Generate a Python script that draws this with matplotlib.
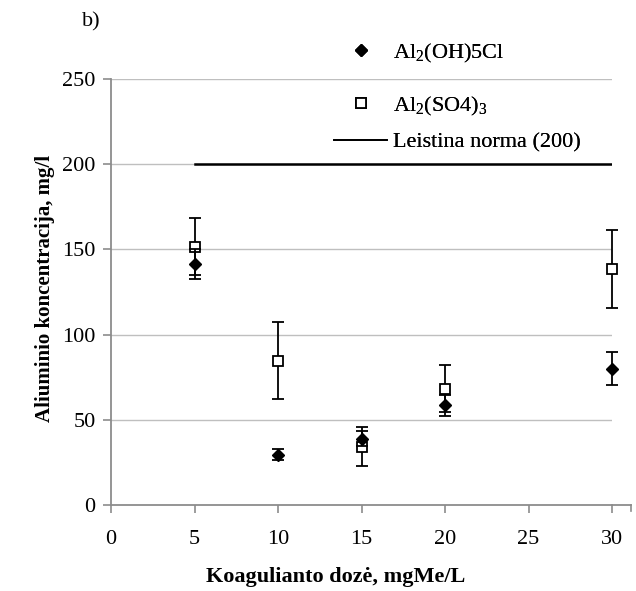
import matplotlib
matplotlib.use("Agg")
import matplotlib.pyplot as plt
from matplotlib.lines import Line2D

plt.rcParams['font.family'] = ['Liberation Serif', 'DejaVu Serif']
plt.rcParams['mathtext.fontset'] = 'custom'
plt.rcParams['mathtext.rm'] = 'Liberation Serif'

# Data
dose = [5, 10, 15, 20, 30]
al_ohcl = [141.5, 29.6, 39.0, 58.4, 80.0]
al_ohcl_err = [8.6, 3.4, 4.2, 6.0, 9.8]
al_so4 = [151.5, 84.8, 34.1, 68.2, 138.5]
al_so4_err = [16.8, 22.4, 11.5, 13.7, 22.6]
norm_x = [5, 30]
norm_y = [200, 200]

label_ohcl = r'Al$_2$(OH)5Cl'
label_so4 = r'Al$_2$(SO4)$_3$'
label_norm = 'Leistina norma (200)'
xticks = [0, 5, 10, 15, 20, 25, 30]
yticks = [0, 50, 100, 150, 200, 250]

FS = 16

fig = plt.figure(figsize=(6.36, 5.91), dpi=100)
L, R, T, B = 111, 612, 79, 505
ax = fig.add_axes([L/636, 1-B/591, (R-L)/636, (B-T)/591])

grid_c = '#bfbfbf'
axis_c = '#8c8c8c'

for yv in yticks[1:]:
    ax.axhline(yv, color=grid_c, lw=1.0, zorder=0)

ax.plot(norm_x, norm_y, color='black', lw=1.8, zorder=2)

e1 = ax.errorbar(dose, al_so4, yerr=al_so4_err, fmt='s', mfc='white', mec='black',
                 mew=1.3, ms=7.5, ecolor='black', elinewidth=1.3, capsize=4.5,
                 capthick=1.3, zorder=3)
e2 = ax.errorbar(dose, al_ohcl, yerr=al_ohcl_err, fmt='D', mfc='black', mec='black',
                 ms=6.5, ecolor='black', elinewidth=1.3, capsize=4.5,
                 capthick=1.3, zorder=4)
for e in (e1, e2):
    for art in e.get_children():
        art.set_clip_on(False)

ax.set_xlim(0, 30)
ax.set_ylim(0, 250)
ax.set_xticks(xticks)
ax.set_yticks(yticks)
for s in ['top', 'right']:
    ax.spines[s].set_visible(False)
for s in ['left', 'bottom']:
    ax.spines[s].set_color(axis_c)
    ax.spines[s].set_linewidth(1.3)
# x axis line continues a little beyond the plot area, as in the reference
ax.plot([1.0, 1.038], [0, 0], transform=ax.transAxes, color=axis_c, lw=1.3,
        clip_on=False, zorder=1)
ax.plot([1.038, 1.038], [0, -0.014], transform=ax.transAxes, color=axis_c, lw=1.2,
        clip_on=False, zorder=1)

ax.tick_params(axis='both', direction='out', length=6, width=1.2, color=axis_c,
               labelsize=FS, labelcolor='black')
ax.tick_params(axis='x', pad=12)
ax.tick_params(axis='y', pad=5)

ax.set_xlabel('Koagulianto dozė, mgMe/L', fontsize=FS, fontweight='bold')
ax.set_ylabel('Aliuminio koncentracija, mg/l', fontsize=15, fontweight='bold')
ax.xaxis.set_label_coords((336-L)/(R-L), (B-577)/(B-T))
ax.yaxis.set_label_coords((45-L)/(R-L), (B-288)/(B-T))
ax.xaxis.label.set_va('center')
ax.yaxis.label.set_va('center')

fig.text(82/636, 1-22/591, 'b)', fontsize=FS, va='center', ha='left')

# Legend entries (separate to reproduce uneven spacing)
entries = [
    (Line2D([], [], marker='D', color='black', ls='none', ms=6.5), label_ohcl, 53),
    (Line2D([], [], marker='s', mfc='white', mec='black', mew=1.3, ls='none', ms=7.5), label_so4, 106),
    (Line2D([], [], color='black', lw=1.3), label_norm, 142),
]
for h, lab, yp in entries:
    lg = fig.legend([h], [lab], loc='center left', bbox_to_anchor=(334/636, 1-yp/591),
                    frameon=False, fontsize=FS, handlelength=2.4, handletextpad=0.27,
                    borderpad=0, borderaxespad=0)
    fig.add_artist(lg)

fig.savefig('out.png', dpi=100)
